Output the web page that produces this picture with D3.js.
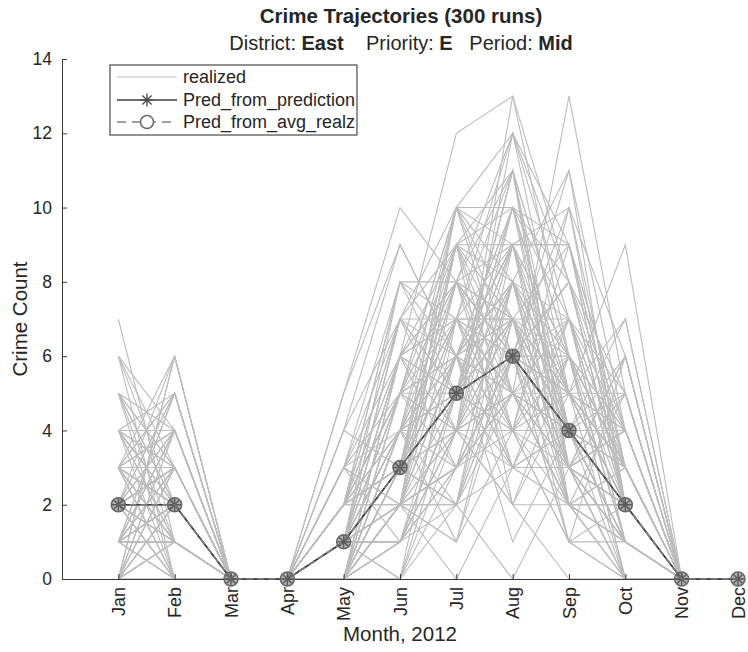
<!DOCTYPE html>
<html>
<head>
<meta charset="utf-8">
<script src="https://cdn.jsdelivr.net/npm/d3@7"></script>
<style>
  html, body { margin: 0; padding: 0; background: #fff; }
  text { font-family: "Liberation Sans", Arial, sans-serif; fill: #262626; }
</style>
</head>
<body>
<div id="chart"></div>
<script>
// Months on the x axis (1..12)
const months = ['Jan', 'Feb', 'Mar', 'Apr', 'May', 'Jun', 'Jul', 'Aug', 'Sep', 'Oct', 'Nov', 'Dec'];
const yTicks = [0, 2, 4, 6, 8, 10, 12, 14];

// Prediction curves
const predFromPrediction = [2, 2, 0, 0, 1, 3, 5, 6, 4, 2, 0, 0];
const predFromAvgRealz = [2, 2, 0, 0, 1, 3, 5, 6, 4, 2, 0, 0];

// Realized runs. Many of the 300 runs share the same integer values,
// so only the distinct-looking ones are listed here.
const realized = [
  [2, 1, 0, 0, 1, 3, 5, 6, 4, 2, 0, 0],
  [7, 1, 0, 0, 0, 2, 4, 7, 3, 1, 0, 0],
  [0, 6, 0, 0, 5, 10, 8, 6, 3, 0, 0, 0],
  [1, 5, 0, 0, 4, 9, 6, 5, 4, 2, 0, 0],
  [3, 2, 0, 0, 2, 8, 8, 5, 2, 1, 0, 0],
  [2, 3, 0, 0, 1, 6, 12, 13, 6, 3, 0, 0],
  [4, 2, 0, 0, 0, 3, 10, 10, 9, 2, 0, 0],
  [1, 4, 0, 0, 1, 2, 9, 9, 9, 4, 0, 0],
  [0, 2, 0, 0, 0, 4, 7, 5, 13, 5, 0, 0],
  [5, 0, 0, 0, 2, 5, 6, 8, 5, 9, 0, 0],
  [6, 3, 0, 0, 1, 3, 4, 12, 7, 3, 0, 0],
  [2, 6, 0, 0, 3, 1, 5, 11, 4, 7, 0, 0],
  [3, 0, 0, 0, 0, 0, 3, 6, 11, 2, 0, 0],
  [1, 1, 0, 0, 2, 7, 5, 4, 10, 6, 0, 0],
  [0, 0, 0, 0, 1, 2, 2, 3, 3, 1, 0, 0],
  [4, 4, 0, 0, 0, 3, 6, 9, 2, 0, 0, 0],
  [2, 2, 0, 0, 1, 4, 7, 7, 4, 3, 0, 0],
  [3, 1, 0, 0, 0, 2, 5, 8, 6, 1, 0, 0],
  [1, 3, 0, 0, 2, 5, 3, 6, 3, 2, 0, 0],
  [5, 2, 0, 0, 1, 1, 4, 2, 5, 4, 0, 0],
  [2, 0, 0, 0, 0, 3, 8, 7, 1, 0, 0, 0],
  [0, 3, 0, 0, 1, 4, 6, 10, 4, 2, 0, 0],
  [3, 5, 0, 0, 3, 6, 9, 5, 7, 1, 0, 0],
  [1, 2, 0, 0, 0, 2, 1, 4, 2, 3, 0, 0],
  [2, 4, 0, 0, 2, 3, 5, 6, 8, 5, 0, 0],
  [4, 1, 0, 0, 1, 5, 4, 3, 3, 0, 0, 0],
  [6, 2, 0, 0, 0, 1, 6, 7, 5, 2, 0, 0],
  [0, 1, 0, 0, 4, 7, 7, 9, 4, 1, 0, 0],
  [3, 3, 0, 0, 1, 2, 3, 5, 6, 4, 0, 0],
  [1, 0, 0, 0, 0, 4, 10, 8, 2, 2, 0, 0],
  [2, 5, 0, 0, 2, 6, 5, 11, 3, 1, 0, 0],
  [5, 3, 0, 0, 1, 3, 2, 6, 4, 3, 0, 0],
  [1, 2, 0, 0, 0, 0, 4, 4, 1, 6, 0, 0],
  [3, 4, 0, 0, 1, 5, 8, 12, 5, 2, 0, 0],
  [0, 2, 0, 0, 3, 2, 6, 3, 6, 0, 0, 0],
  [2, 1, 0, 0, 0, 4, 1, 7, 9, 3, 0, 0],
  [4, 3, 0, 0, 2, 3, 7, 6, 2, 1, 0, 0],
  [1, 1, 0, 0, 1, 1, 5, 10, 7, 4, 0, 0],
  [2, 0, 0, 0, 0, 6, 4, 5, 3, 2, 0, 0],
  [3, 2, 0, 0, 1, 3, 9, 4, 5, 7, 0, 0],
  [0, 4, 0, 0, 0, 2, 3, 8, 4, 1, 0, 0],
  [2, 3, 0, 0, 2, 5, 6, 2, 0, 0, 0, 0],
  [5, 1, 0, 0, 0, 1, 2, 9, 6, 2, 0, 0],
  [1, 2, 0, 0, 1, 4, 5, 6, 10, 3, 0, 0],
  [3, 0, 0, 0, 3, 8, 6, 7, 3, 5, 0, 0],
  [2, 2, 0, 0, 0, 3, 4, 13, 8, 2, 0, 0],
  [0, 1, 0, 0, 1, 0, 7, 5, 2, 1, 0, 0],
  [4, 5, 0, 0, 2, 2, 3, 6, 5, 4, 0, 0],
  [1, 3, 0, 0, 0, 5, 8, 4, 1, 0, 0, 0],
  [2, 4, 0, 0, 1, 7, 5, 8, 4, 2, 0, 0],
  [3, 1, 0, 0, 0, 3, 2, 7, 7, 3, 0, 0],
  [1, 0, 0, 0, 2, 4, 6, 3, 4, 6, 0, 0],
  [6, 4, 0, 0, 1, 1, 4, 10, 3, 1, 0, 0],
  [0, 2, 0, 0, 0, 2, 9, 6, 5, 2, 0, 0],
  [2, 1, 0, 0, 1, 6, 3, 5, 2, 0, 0, 0],
  [3, 3, 0, 0, 4, 3, 5, 9, 6, 3, 0, 0],
  [1, 5, 0, 0, 0, 4, 7, 4, 3, 4, 0, 0],
  [4, 0, 0, 0, 1, 2, 1, 6, 8, 2, 0, 0],
  [2, 2, 0, 0, 2, 5, 10, 7, 4, 1, 0, 0],
  [0, 3, 0, 0, 1, 3, 6, 5, 2, 5, 0, 0],
  [5, 2, 0, 0, 0, 1, 4, 8, 5, 3, 0, 0],
  [1, 1, 0, 0, 3, 4, 5, 11, 6, 0, 0, 0],
  [3, 2, 0, 0, 1, 6, 8, 3, 3, 2, 0, 0],
  [2, 0, 0, 0, 0, 2, 3, 4, 7, 1, 0, 0],
  [0, 6, 0, 0, 2, 5, 5, 9, 9, 3, 0, 0],
  [4, 2, 0, 0, 1, 3, 7, 6, 1, 2, 0, 0],
  [1, 4, 0, 0, 0, 0, 2, 5, 4, 4, 0, 0],
  [2, 3, 0, 0, 5, 9, 6, 8, 3, 1, 0, 0],
  [3, 1, 0, 0, 1, 4, 4, 7, 5, 2, 0, 0],
  [6, 0, 0, 0, 0, 3, 9, 2, 2, 0, 0, 0],
  [0, 2, 0, 0, 2, 7, 10, 6, 6, 3, 0, 0],
  [2, 5, 0, 0, 1, 2, 4, 5, 3, 6, 0, 0],
  [1, 2, 0, 0, 0, 5, 6, 9, 4, 1, 0, 0],
  [4, 1, 0, 0, 1, 1, 3, 6, 5, 2, 0, 0],
  [3, 4, 0, 0, 2, 3, 8, 11, 2, 3, 0, 0],
  [0, 0, 0, 0, 0, 4, 5, 4, 6, 1, 0, 0],
  [2, 2, 0, 0, 1, 6, 7, 7, 3, 4, 0, 0],
  [5, 3, 0, 0, 3, 2, 2, 6, 8, 2, 0, 0],
  [1, 1, 0, 0, 0, 3, 6, 1, 4, 0, 0, 0],
  [3, 6, 0, 0, 1, 8, 5, 10, 5, 5, 0, 0],
  [2, 3, 0, 0, 0, 1, 5, 7, 2, 1, 0, 0],
  [1, 2, 0, 0, 1, 3, 4, 9, 5, 3, 0, 0],
  [3, 2, 0, 0, 2, 4, 9, 8, 7, 2, 0, 0],
  [0, 1, 0, 0, 0, 2, 7, 11, 3, 0, 0, 0],
  [2, 4, 0, 0, 1, 5, 10, 9, 4, 2, 0, 0],
  [4, 2, 0, 0, 0, 2, 6, 4, 9, 4, 0, 0],
  [1, 3, 0, 0, 2, 3, 8, 7, 6, 1, 0, 0],
  [2, 1, 0, 0, 1, 7, 9, 10, 5, 3, 0, 0],
  [3, 0, 0, 0, 0, 1, 5, 3, 7, 5, 0, 0],
  [1, 2, 0, 0, 1, 4, 3, 8, 2, 2, 0, 0],
  [5, 4, 0, 0, 0, 6, 7, 12, 8, 4, 0, 0],
  [0, 3, 0, 0, 3, 5, 4, 6, 1, 1, 0, 0],
  [2, 2, 0, 0, 0, 2, 10, 5, 3, 6, 0, 0],
  [1, 0, 0, 0, 1, 3, 6, 9, 10, 2, 0, 0],
  [3, 5, 0, 0, 2, 8, 7, 4, 4, 3, 0, 0],
  [2, 1, 0, 0, 0, 4, 2, 8, 5, 0, 0, 0],
  [4, 3, 0, 0, 1, 0, 5, 7, 4, 5, 0, 0],
  [0, 2, 0, 0, 2, 6, 8, 6, 7, 2, 0, 0],
  [1, 4, 0, 0, 0, 3, 9, 11, 6, 4, 0, 0],
  [2, 3, 0, 0, 1, 5, 7, 3, 2, 1, 0, 0],
  [3, 1, 0, 0, 3, 7, 6, 10, 8, 3, 0, 0],
  [1, 2, 0, 0, 0, 1, 3, 5, 5, 2, 0, 0],
  [2, 0, 0, 0, 1, 2, 8, 9, 3, 4, 0, 0],
  [0, 1, 0, 0, 2, 4, 4, 2, 6, 3, 0, 0],
  [4, 2, 0, 0, 0, 6, 5, 7, 4, 1, 0, 0],
  [2, 3, 0, 0, 1, 3, 10, 12, 9, 2, 0, 0],
  [1, 1, 0, 0, 0, 5, 9, 7, 3, 0, 0, 0],
  [3, 2, 0, 0, 2, 2, 6, 8, 11, 4, 0, 0],
  [0, 4, 0, 0, 1, 7, 4, 5, 2, 2, 0, 0],
  [2, 2, 0, 0, 0, 4, 8, 6, 5, 3, 0, 0],
  [1, 2, 0, 0, 0, 2, 0, 3, 4, 1, 0, 0],
  [2, 1, 0, 0, 1, 3, 2, 0, 3, 2, 0, 0],
];

const width = 748;
const height = 652;
const plot = {left: 62, right: 738, top: 59, bottom: 579};

const x = d3.scaleLinear().domain([0, 12]).range([plot.left, plot.right]);
const y = d3.scaleLinear().domain([0, 14]).range([plot.bottom, plot.top]);

const svg = d3.select('#chart')
  .append('svg')
  .attr('width', width)
  .attr('height', height);

const line = d3.line()
  .x((d, i) => x(i + 1))
  .y(d => y(d));

// Realized runs, thin light grey
svg.append('g')
  .selectAll('path')
  .data(realized)
  .enter()
  .append('path')
  .attr('d', line)
  .attr('fill', 'none')
  .attr('stroke', '#bcbcbc')
  .attr('stroke-width', 1.1);

// Asterisk marker: 8 spokes like matlab '*'
function asterisk(r) {
  const a = r * Math.SQRT1_2;
  return `M${-r},0L${r},0M0,${-r}L0,${r}M${-a},${-a}L${a},${a}M${-a},${a}L${a},${-a}`;
}

// Axes (only left + bottom, ticks pointing inwards)
const axisColor = '#3a3a3a';
const yAxis = svg.append('g')
  .attr('transform', `translate(${plot.left},0)`)
  .call(d3.axisLeft(y).tickValues(yTicks).tickSizeInner(-5).tickSizeOuter(0).tickPadding(10));
yAxis.select('.domain').attr('stroke', axisColor);
yAxis.selectAll('.tick line').attr('stroke', axisColor);
yAxis.selectAll('.tick text')
  .attr('font-size', 17.5)
  .attr('font-family', '"Liberation Sans", Arial, sans-serif')
  .attr('fill', '#262626');

const xAxis = svg.append('g')
  .attr('transform', `translate(0,${plot.bottom})`)
  .call(d3.axisBottom(x).tickValues(d3.range(1, 13)).tickFormat(d => months[d - 1])
    .tickSizeInner(-5).tickSizeOuter(0));
xAxis.select('.domain').attr('stroke', axisColor);
xAxis.selectAll('.tick line').attr('stroke', axisColor);
xAxis.selectAll('.tick text')
  .attr('font-size', 18)
  .attr('font-family', '"Liberation Sans", Arial, sans-serif')
  .attr('fill', '#262626')
  .attr('text-anchor', 'end')
  .attr('dy', null)
  .attr('y', 0)
  .attr('transform', 'translate(6,8) rotate(-90)');

// Pred_from_prediction: dark solid line with asterisks
svg.append('path')
  .datum(predFromPrediction)
  .attr('d', line)
  .attr('fill', 'none')
  .attr('stroke', '#3c3c3c')
  .attr('stroke-width', 1.6);
svg.append('g')
  .selectAll('path')
  .data(predFromPrediction)
  .enter()
  .append('path')
  .attr('transform', (d, i) => `translate(${x(i + 1)},${y(d)})`)
  .attr('d', asterisk(6.5))
  .attr('stroke', '#505050')
  .attr('stroke-width', 1.4);

// Pred_from_avg_realz: dashed grey line with circles
svg.append('path')
  .datum(predFromAvgRealz)
  .attr('d', line)
  .attr('fill', 'none')
  .attr('stroke', '#808080')
  .attr('stroke-width', 1.6)
  .attr('stroke-dasharray', '7,4');
svg.append('g')
  .selectAll('circle')
  .data(predFromAvgRealz)
  .enter()
  .append('circle')
  .attr('cx', (d, i) => x(i + 1))
  .attr('cy', d => y(d))
  .attr('r', 7)
  .attr('fill', 'rgba(100,100,100,0.5)')
  .attr('stroke', '#666')
  .attr('stroke-width', 1.5);

// Legend
const legend = svg.append('g').attr('transform', 'translate(110,65)');
legend.append('rect')
  .attr('width', 247)
  .attr('height', 70)
  .attr('fill', '#fff')
  .attr('stroke', '#262626')
  .attr('stroke-width', 1);

const legendRows = [
  {label: 'realized', y: 12},
  {label: 'Pred_from_prediction', y: 35},
  {label: 'Pred_from_avg_realz', y: 57},
];
legend.append('line')
  .attr('x1', 7).attr('x2', 67).attr('y1', legendRows[0].y).attr('y2', legendRows[0].y)
  .attr('stroke', '#bcbcbc').attr('stroke-width', 1.1);
legend.append('line')
  .attr('x1', 7).attr('x2', 67).attr('y1', legendRows[1].y).attr('y2', legendRows[1].y)
  .attr('stroke', '#3c3c3c').attr('stroke-width', 1.6);
legend.append('path')
  .attr('transform', `translate(37,${legendRows[1].y})`)
  .attr('d', asterisk(6.5))
  .attr('stroke', '#505050').attr('stroke-width', 1.4);
legend.append('line')
  .attr('x1', 7).attr('x2', 67).attr('y1', legendRows[2].y).attr('y2', legendRows[2].y)
  .attr('stroke', '#808080').attr('stroke-width', 1.6).attr('stroke-dasharray', '9,6');
legend.append('circle')
  .attr('cx', 37).attr('cy', legendRows[2].y).attr('r', 6.5)
  .attr('fill', '#fff').attr('stroke', '#6a6a6a').attr('stroke-width', 1.5);
legend.selectAll('text.lbl')
  .data(legendRows)
  .enter()
  .append('text')
  .attr('class', 'lbl')
  .attr('x', 73)
  .attr('y', d => d.y + 6)
  .attr('font-size', 18)
  .text(d => d.label);

// Titles
svg.append('text')
  .attr('x', 401)
  .attr('y', 23)
  .attr('text-anchor', 'middle')
  .attr('font-size', 20.5)
  .attr('font-weight', 'bold')
  .text('Crime Trajectories (300 runs)');

const sub = svg.append('text')
  .attr('x', 401)
  .attr('y', 50)
  .attr('text-anchor', 'middle')
  .attr('font-size', 20)
  .style('white-space', 'pre');
sub.append('tspan').text('District: ');
sub.append('tspan').attr('font-weight', 'bold').text('East');
sub.append('tspan').text('    Priority: ');
sub.append('tspan').attr('font-weight', 'bold').text('E');
sub.append('tspan').text('   Period: ');
sub.append('tspan').attr('font-weight', 'bold').text('Mid');

// Axis labels
svg.append('text')
  .attr('transform', `translate(27,${(plot.top + plot.bottom) / 2}) rotate(-90)`)
  .attr('text-anchor', 'middle')
  .attr('font-size', 20.5)
  .text('Crime Count');

svg.append('text')
  .attr('x', 400)
  .attr('y', 641)
  .attr('text-anchor', 'middle')
  .attr('font-size', 20.5)
  .text('Month, 2012');
</script>
</body>
</html>
